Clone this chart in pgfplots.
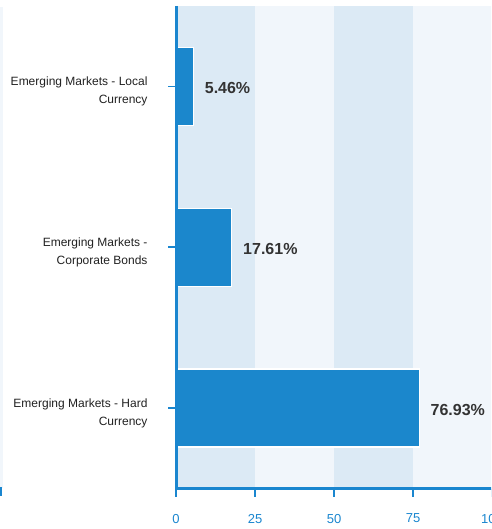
\documentclass[border=0pt]{standalone}
\usepackage{fontspec}
\setmainfont{Liberation Sans}
\usepackage{pgfplots}
\pgfplotsset{compat=1.18}
\definecolor{barblue}{HTML}{1B87CC}
\definecolor{axblue}{HTML}{1A86CF}
\definecolor{bandA}{HTML}{DCEAF5}
\definecolor{bandB}{HTML}{F1F6FB}
\definecolor{lbl}{HTML}{333333}
\begin{document}
\begin{tikzpicture}[x=1pt,y=1pt]
\useasboundingbox (0,0) rectangle (491,529);
\clip (0,0) rectangle (491,529);
% clipped neighbour chart edge at far left
\fill[bandB] (0,41) rectangle (2.5,522);
\draw[axblue,line width=3pt] (-10,40.5) -- (2,40.5);
\draw[axblue,line width=1.5pt] (1,40.5) -- (1,33);
\node[text=axblue,font=\fontsize{13}{15}\selectfont] at (-3,11) {0};
\begin{axis}[
  at={(176pt,40.5pt)}, anchor=south west,
  scale only axis, width=316pt, height=482.5pt,
  xmin=0, xmax=100, ymin=-0.5, ymax=2.5, y dir=reverse,
  xbar, bar width=78pt,
  xtick={0,25,50,75,100}, ytick={0,1,2},
  yticklabels={{Emerging Markets - Local\\Currency},{Emerging Markets -\\Corporate Bonds},{Emerging Markets - Hard\\Currency}},
  yticklabel style={align=right, font=\fontsize{12}{18}\selectfont, text=black!87, xshift=-17pt, yshift=-5pt},
  xticklabel style={font=\fontsize{13}{15}\selectfont, text=axblue, yshift=-14pt},
  /pgf/number format/assume math mode=true,
  axis x line*=bottom, axis y line*=left,
  axis line style={axblue, line width=3pt, -},
  tick style={axblue, line width=1.8pt},
  major tick length=8pt,
  tick align=outside,
  axis on top=true,
  nodes near coords={\pgfmathprintnumber[fixed,precision=2,fixed zerofill,assume math mode=true]{\pgfplotspointmeta}\%},
  nodes near coords style={font=\bfseries\fontsize{16}{18}\selectfont, text=lbl, anchor=west, inner sep=0pt, xshift=11pt, yshift=-1.5pt},
  point meta=explicit,
]
\fill[bandA] (axis cs:0,-0.5) rectangle (axis cs:25,2.5);
\fill[bandB] (axis cs:25,-0.5) rectangle (axis cs:50,2.5);
\fill[bandA] (axis cs:50,-0.5) rectangle (axis cs:75,2.5);
\fill[bandB] (axis cs:75,-0.5) rectangle (axis cs:100,2.5);
\addplot[fill=barblue, draw=white, line width=1.2pt] coordinates {
  (5.46,0) [5.46]
  (17.61,1) [17.61]
  (76.93,2) [76.93]
};
\end{axis}
\end{tikzpicture}
\end{document}
